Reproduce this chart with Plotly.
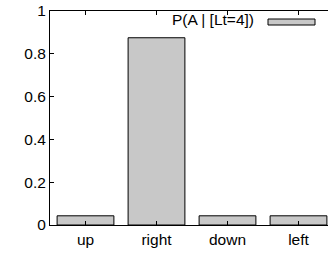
import plotly.graph_objects as go

categories = ["up", "right", "down", "left"]
values = [0.043, 0.875, 0.043, 0.043]
series_name = "P(A | [Lt=4])"
y_ticks = [0, 0.2, 0.4, 0.6, 0.8, 1]
y_tick_labels = ["0", "0.2", "0.4", "0.6", "0.8", "1"]

FONT = dict(family="Liberation Sans, Arial, Helvetica, sans-serif", size=15.5, color="black")
FILL = "#c8c8c8"

fig = go.Figure()
fig.add_trace(go.Bar(
    x=list(range(len(categories))), y=values, name=series_name,
    width=0.8, marker=dict(color=FILL, line=dict(color="black", width=1)),
    showlegend=False, hoverinfo="skip",
))

fig.update_layout(
    width=328, height=255,
    margin=dict(l=50, r=0, t=11, b=30, autoexpand=False),
    paper_bgcolor="white", plot_bgcolor="white",
    font=FONT,
    xaxis=dict(
        range=[-0.5, -0.5 + 278 / 71], automargin=False,
        tickmode="array", tickvals=list(range(len(categories))), ticktext=categories,
        showline=True, linecolor="black", linewidth=1, mirror="ticks",
        ticks="inside", ticklen=4, tickcolor="black",
        showgrid=False, zeroline=False, tickfont=FONT,
    ),
    yaxis=dict(
        range=[0, 1], automargin=False, tickmode="array", tickvals=y_ticks, ticktext=y_tick_labels,
        showline=True, linecolor="black", linewidth=1,
        ticks="inside", ticklen=4, tickcolor="black",
        showgrid=False, zeroline=False, tickfont=FONT,
    ),
    annotations=[dict(
        xref="paper", yref="paper", x=(256 - 50) / 278, y=(225 - 20) / 214,
        xanchor="right", yanchor="middle", text=series_name, showarrow=False,
        font=FONT,
    )],
    shapes=[dict(
        type="rect", xref="paper", yref="paper",
        x0=(268 - 50) / 278, x1=(315 - 50) / 278,
        y0=(225 - 25) / 214, y1=(225 - 19) / 214,
        fillcolor=FILL, line=dict(color="black", width=1),
    )],
)

fig.write_html("out.html", config={"displayModeBar": False},
               post_script="document.body.style.margin='0';document.body.style.overflow='hidden';")
